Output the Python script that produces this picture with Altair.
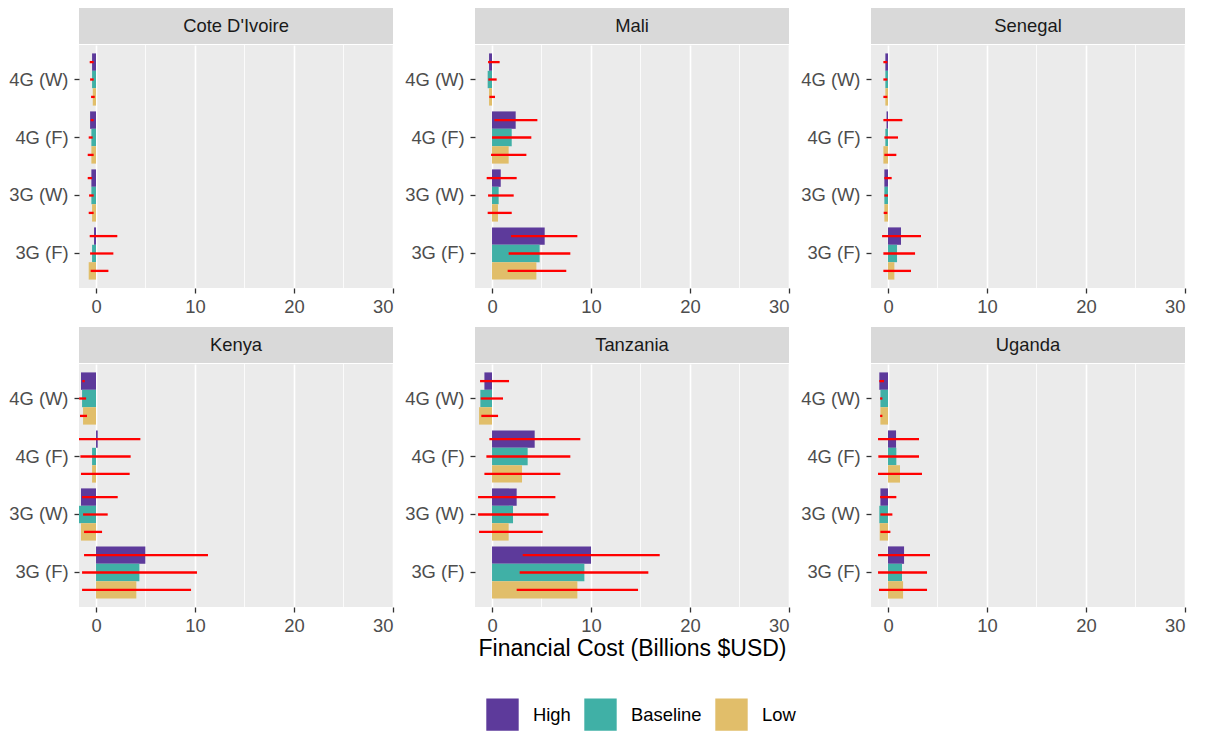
import altair as alt
import pandas as pd

countries = ["Cote D'Ivoire", "Mali", "Senegal", "Kenya", "Tanzania", "Uganda"]
techs = ["4G (W)", "4G (F)", "3G (W)", "3G (F)"]
scenarios = ["High", "Baseline", "Low"]
colors = ["#5D3A9B", "#40B0A6", "#E1BE6A"]
x_ticks = [0, 10, 20, 30]
x_minor = [5, 15, 25]

# values ordered: tech (4G W, 4G F, 3G W, 3G F) x scenario (High, Baseline, Low)
civ_cost = [-0.40, -0.40, -0.33, -0.60, -0.47, -0.47, -0.47, -0.47, -0.40, -0.20, -0.40, -0.74]
civ_lo = [-0.64, -0.60, -0.50, -0.54, -0.74, -0.84, -0.84, -0.70, -0.74, -0.64, -0.60, -0.54]
civ_hi = [-0.24, -0.24, -0.13, -0.24, -0.34, -0.24, -0.40, -0.24, -0.24, 2.15, 1.75, 1.25]

mali_cost = [-0.30, -0.44, -0.30, 2.39, 1.99, 1.68, 0.88, 0.67, 0.60, 5.32, 4.81, 4.48]
mali_lo = [-0.40, -0.37, -0.27, 0.24, 0.00, -0.10, -0.54, -0.40, -0.44, 1.92, 1.68, 1.58]
mali_hi = [0.77, 0.47, 0.30, 4.58, 3.97, 3.47, 2.49, 2.19, 1.99, 8.62, 7.91, 7.50]

sen_cost = [-0.27, -0.27, -0.27, -0.15, -0.27, -0.47, -0.37, -0.37, -0.37, 1.31, 0.91, 0.64]
sen_lo = [-0.47, -0.47, -0.47, -0.47, -0.37, -0.37, -0.37, -0.37, -0.44, -0.60, -0.47, -0.47]
sen_hi = [-0.07, -0.07, -0.07, 1.45, 1.01, 0.84, 0.37, 0.00, -0.07, 3.33, 2.73, 2.32]

ken_cost = [-1.52, -1.41, -1.31, 0.17, -0.40, -0.40, -1.52, -1.72, -1.52, 4.98, 4.38, 4.07]
ken_lo = [-1.38, -1.70, -1.62, -1.72, -1.58, -1.52, -1.41, -1.31, -1.21, -1.21, -1.41, -1.41]
ken_hi = [-1.14, -1.00, -0.91, 4.48, 3.50, 3.40, 2.19, 1.18, 0.61, 11.31, 10.20, 9.60]

tza_cost = [-0.77, -1.18, -1.31, 4.31, 3.60, 3.03, 2.49, 2.12, 1.68, 10.00, 9.33, 8.62]
tza_lo = [-1.21, -1.14, -1.08, -0.27, -0.57, -0.77, -1.41, -1.41, -1.31, 3.10, 2.79, 2.49]
tza_hi = [1.72, 1.11, 0.61, 8.92, 7.91, 6.90, 6.40, 5.72, 5.12, 16.94, 15.79, 14.75]

uga_cost = [-0.88, -0.77, -0.77, 0.81, 0.84, 1.21, -0.77, -0.88, -0.84, 1.62, 1.41, 1.52]
uga_lo = [-0.88, -0.80, -0.80, -1.01, -0.98, -1.01, -0.80, -0.77, -0.77, -1.01, -1.01, -0.91]
uga_hi = [-0.40, -0.57, -0.57, 3.13, 3.13, 3.43, 0.84, 0.44, 0.24, 4.24, 3.94, 3.94]

series = {
    "Cote D'Ivoire": (civ_cost, civ_lo, civ_hi),
    "Mali": (mali_cost, mali_lo, mali_hi),
    "Senegal": (sen_cost, sen_lo, sen_hi),
    "Kenya": (ken_cost, ken_lo, ken_hi),
    "Tanzania": (tza_cost, tza_lo, tza_hi),
    "Uganda": (uga_cost, uga_lo, uga_hi),
}

rows = []
for c in countries:
    cost, lo, hi = series[c]
    for ti, t in enumerate(techs):
        for si, s in enumerate(scenarios):
            k = ti * 3 + si
            rows.append(dict(country=c, tech=t, scenario=s, cost=cost[k], lo=lo[k], hi=hi[k]))
df = pd.DataFrame(rows)

W, H, SH = 314, 243, 36
FONT = "Liberation Sans"
FS = 18.4

xscale = alt.Scale(domain=[-1.72, 30], nice=False, zero=False)
yscale = alt.Scale(domain=techs, paddingInner=0.1, paddingOuter=0.145)
offscale = alt.Scale(domain=scenarios, paddingInner=0, paddingOuter=0)
cscale = alt.Scale(domain=scenarios, range=colors)


def xaxis(title):
    if title:
        return alt.Axis(values=x_ticks, title=title, titleFontSize=23, titleColor="#000000",
                        titleFontWeight="normal", titlePadding=3, titleFont=FONT)
    return alt.Axis(values=x_ticks, title=None)


yaxis = alt.Axis(title=None, bandPosition=0.5)


def panel(c, title=""):
    d = df[df.country == c]
    base = alt.Chart(d)
    minor = alt.Chart(pd.DataFrame({"v": x_minor})).mark_rule(color="white", strokeWidth=0.8).encode(
        x=alt.X("v:Q", scale=xscale, axis=xaxis(title))
    )
    bars = base.mark_bar().encode(
        x=alt.X("cost:Q", scale=xscale, axis=xaxis(title)),
        y=alt.Y("tech:N", scale=yscale, axis=yaxis, sort=techs),
        yOffset=alt.YOffset("scenario:N", scale=offscale, sort=scenarios),
        color=alt.Color("scenario:N", scale=cscale, sort=scenarios,
                        legend=alt.Legend(title=None, orient="none", direction="horizontal",
                                          legendX=407, legendY=690,
                                          symbolType="square", symbolSize=1050,
                                          symbolStrokeWidth=0, symbolOpacity=1,
                                          labelFontSize=FS, labelColor="#000000",
                                          labelOffset=14, columnPadding=13, labelFont=FONT)),
    )
    err = base.mark_rule(color="#FF0000", strokeWidth=2.3).encode(
        x=alt.X("lo:Q", scale=xscale, axis=xaxis(title)),
        x2="hi:Q",
        y=alt.Y("tech:N", scale=yscale, axis=yaxis, sort=techs),
        yOffset=alt.YOffset("scenario:N", scale=offscale, sort=scenarios),
    )
    plot = alt.layer(minor, bars, err).properties(width=W, height=H)

    sdf = pd.DataFrame({"country": [c]})
    strip_bg = alt.Chart(sdf).mark_rect(color="#D9D9D9").encode(
        x=alt.value(0), x2=alt.value(W), y=alt.value(0), y2=alt.value(SH)
    )
    strip_tx = alt.Chart(sdf).mark_text(fontSize=FS, color="#1A1A1A", font=FONT).encode(
        text="country:N", x=alt.value(W / 2), y=alt.value(SH / 2)
    )
    strip = alt.layer(strip_bg, strip_tx).properties(width=W, height=SH)
    return alt.vconcat(strip, plot, spacing=0)


row1 = alt.hconcat(*[panel(c) for c in countries[:3]], spacing=10)
row2 = alt.hconcat(panel(countries[3]), panel(countries[4], "Financial Cost (Billions $USD)"),
                   panel(countries[5]), spacing=10)

chart = alt.vconcat(row1, row2, spacing=11).properties(
    padding={"left": 0, "top": 0, "right": 5, "bottom": 0}
).configure_view(
    fill="#EBEBEB", stroke=None
).configure_axis(
    labelFont=FONT, labelFontSize=FS, labelColor="#4D4D4D", tickColor="#333333",
    tickSize=5, tickWidth=1.3, domain=False,
    gridColor="white", gridWidth=1.6,
).configure_axisX(labelPadding=4).configure_axisY(labelPadding=6).configure_concat(spacing=0)

chart.save("out.html", embed_options={"renderer": "svg", "actions": False})
